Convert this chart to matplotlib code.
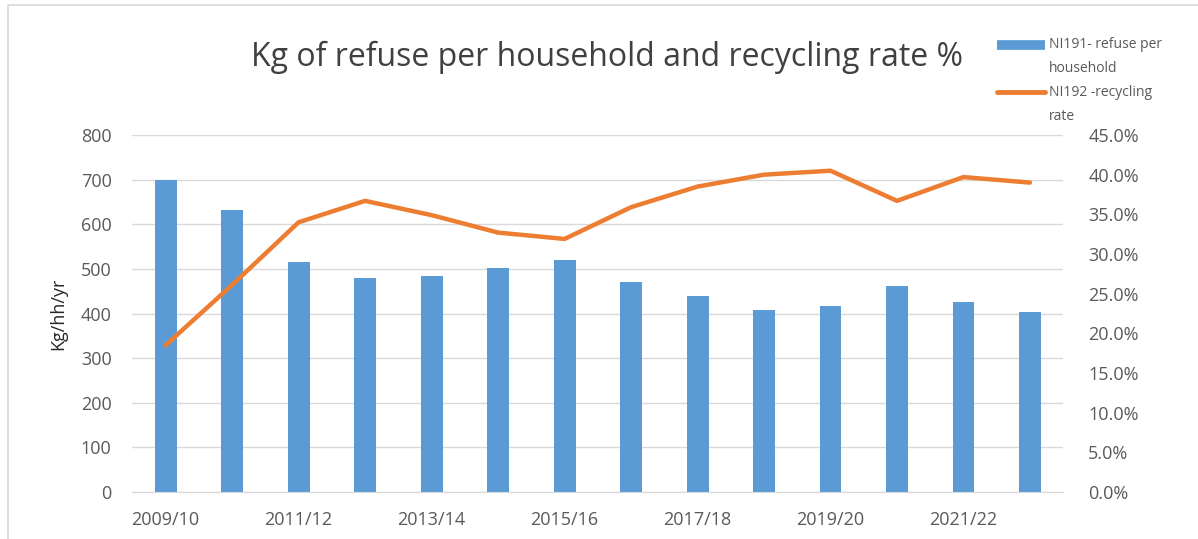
import matplotlib.pyplot as plt
from matplotlib.lines import Line2D
from matplotlib.patches import Rectangle
from matplotlib.ticker import FuncFormatter

# Years (financial year labels)
years = ["2009/10", "2010/11", "2011/12", "2012/13", "2013/14", "2014/15", "2015/16",
         "2016/17", "2017/18", "2018/19", "2019/20", "2020/21", "2021/22", "2022/23"]

# NI191 - kg of refuse per household
refuse = [700, 632, 515, 480, 484, 502, 520, 471, 439, 408, 417, 462, 426, 404]

# NI192 - recycling rate (%)
recycling = [18.5, 26.1, 34.0, 36.7, 34.9, 32.7, 31.9, 35.9, 38.5, 40.0, 40.5, 36.7, 39.7, 39.0]

legend_labels = [["NI191- refuse per", "household"], ["NI192 -recycling", "rate"]]

text_col = "#595959"
blue = "#5B9BD5"
orange = "#ED7D31"
plt.rcParams['font.family'] = ['Open Sans', 'DejaVu Sans']

W, H = 1198, 539
fig = plt.figure(figsize=(W / 100, H / 100), dpi=100)
fig.patches.append(Rectangle((0.007, -0.01), 1.0, 1.0, transform=fig.transFigure,
                             fill=False, edgecolor="#D9D9D9", linewidth=1.2))

ax = fig.add_axes([0.1105, 0.0872, 0.777, 0.6623])
x = list(range(len(years)))
ax.bar(x, refuse, width=0.33, color=blue, zorder=2)
ax.set_ylim(0, 800)
ax.set_yticks(range(0, 801, 100))
ax.set_xlim(-0.5, len(years) - 0.5)
ax.set_xticks(x[::2])
ax.set_xticklabels(years[::2])
ax.grid(axis="y", color="#D9D9D9", linewidth=1, zorder=0)
ax.set_axisbelow(True)
for s in ["top", "right", "left"]:
    ax.spines[s].set_visible(False)
ax.spines["bottom"].set_color("#D9D9D9")
ax.tick_params(axis="x", length=0, labelsize=13, colors=text_col, pad=14)
ax.tick_params(axis="y", length=0, labelsize=13, colors=text_col, pad=15)
ax.set_ylabel("Kg/hh/yr", fontsize=13, color="#262626", labelpad=10)

ax2 = ax.twinx()
ax2.plot(x, recycling, color=orange, linewidth=3.2, solid_capstyle="round", zorder=3)
ax2.set_ylim(0, 45)
ax2.set_yticks(range(0, 46, 5))
ax2.yaxis.set_major_formatter(FuncFormatter(lambda v, p: f"{v:.1f}%"))
for s in ax2.spines.values():
    s.set_visible(False)
ax2.tick_params(axis="y", length=0, labelsize=13, colors=text_col, pad=18)

fig.text(0.507, 0.893, "Kg of refuse per household and recycling rate %",
         ha="center", va="center", fontsize=23, color="#404040")

# legend drawn by hand so the key sits on the first text line (Excel style)
keys = [dict(color=blue, lw=7, solid_capstyle="butt"),
        dict(color=orange, lw=3.5, solid_capstyle="round")]
for i, (lines, key) in enumerate(zip(legend_labels, keys)):
    y0 = 45 + i * 47
    fig.add_artist(Line2D([997 / W, 1045 / W], [1 - y0 / H] * 2, **key))
    for j, txt in enumerate(lines):
        fig.text(1049 / W, 1 - (y0 + j * 24) / H, txt, ha="left", va="center",
                 fontsize=10, color=text_col)

fig.savefig("out.png", dpi=100)
